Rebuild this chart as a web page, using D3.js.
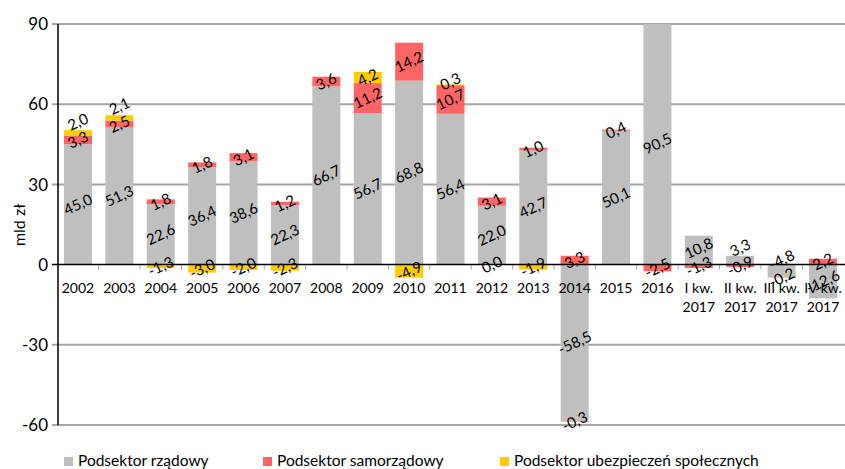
<!DOCTYPE html>
<html>
<head>
<meta charset="utf-8">
<script src="https://cdn.jsdelivr.net/npm/d3@7"></script>
<style>
  body { margin: 0; background: #fff; }
  text { font-family: Lato, "Open Sans", sans-serif; fill: #000; }
</style>
</head>
<body>
<div class="chart"></div>
<script>
var categories = ["2002", "2003", "2004", "2005", "2006", "2007", "2008", "2009", "2010", "2011",
  "2012", "2013", "2014", "2015", "2016", "I kw. 2017", "II kw. 2017", "III kw. 2017", "IV kw. 2017"];

// mld zł
var rzadowy = [45.0, 51.3, 22.6, 36.4, 38.6, 22.3, 66.7, 56.7, 68.8, 56.4, 22.0, 42.7, -58.5, 50.1, 90.5, 10.8, 3.3, -4.8, -12.6];
var samorzadowy = [3.3, 2.5, 1.8, 1.8, 3.1, 1.2, 3.6, 11.2, 14.2, 10.7, 3.1, 1.0, 3.3, 0.4, -2.5, -1.3, -0.9, null, 2.2];
var ubezpieczen = [2.0, 2.1, -1.3, -3.0, -2.0, -2.3, null, 4.2, -4.9, 0.3, 0.0, -1.9, -0.3, null, null, null, null, -0.2, null];

var seriesNames = ["Podsektor rządowy", "Podsektor samorządowy", "Podsektor ubezpieczeń społecznych"];
var yTicks = [-60, -30, 0, 30, 60, 90];

var colors = ["#bfbfbf", "#ff6565", "#ffcc00"];
var svgWidth = 845, svgHeight = 469;

var svg = d3.select(".chart").append("svg")
  .attr("width", svgWidth)
  .attr("height", svgHeight);

var x = d3.scaleBand()
  .domain(categories)
  .range([58, 843])
  .paddingInner(0.324)
  .paddingOuter(0.145);

var y = d3.scaleLinear()
  .domain([-60, 90])
  .range([425, 24]);

// build table for the stack
var table = categories.map(function(c, i) {
  return { cat: c, s0: rzadowy[i] || 0, s1: samorzadowy[i] || 0, s2: ubezpieczen[i] || 0 };
});
var raw = [rzadowy, samorzadowy, ubezpieczen];

var stack = d3.stack()
  .keys(["s0", "s1", "s2"])
  .offset(d3.stackOffsetDiverging);
var stacked = stack(table);

// gridlines
svg.append("g").selectAll("line")
  .data(yTicks.filter(function(t) { return t !== 0; }))
  .enter().append("line")
    .attr("x1", 52).attr("x2", 845)
    .attr("y1", function(d) { return y(d); })
    .attr("y2", function(d) { return y(d); })
    .attr("stroke", "#a6a6a6")
    .attr("stroke-width", 2);

svg.append("defs").append("clipPath").attr("id", "plot")
  .append("rect").attr("x", 58).attr("y", y(90)).attr("width", 790).attr("height", y(-60) - y(90));

var bars = svg.append("g").attr("clip-path", "url(#plot)");
stacked.forEach(function(layer, k) {
  bars.append("g").attr("fill", colors[k]).selectAll("rect")
    .data(layer.filter(function(d, i) { return raw[k][i] !== null; }))
    .enter().append("rect")
      .attr("x", function(d) { return x(d.data.cat); })
      .attr("width", x.bandwidth())
      .attr("y", function(d) { return y(Math.max(d[0], d[1])); })
      .attr("height", function(d) { return Math.abs(y(d[0]) - y(d[1])); });
});

// zero line + category ticks
var step = x.step();
svg.append("g").selectAll("line")
  .data(categories.slice(1))
  .enter().append("line")
    .attr("x1", function(d) { return x(d) - (step - x.bandwidth()) / 2; })
    .attr("x2", function(d) { return x(d) - (step - x.bandwidth()) / 2; })
    .attr("y1", y(0)).attr("y2", y(0) + 5)
    .attr("stroke", "#a6a6a6").attr("stroke-width", 1);

svg.append("line")
  .attr("x1", 52).attr("x2", 845)
  .attr("y1", y(0)).attr("y2", y(0))
  .attr("stroke", "#000").attr("stroke-width", 1.5);

svg.append("line")
  .attr("x1", 58).attr("x2", 58)
  .attr("y1", y(90)).attr("y2", y(-60))
  .attr("stroke", "#000").attr("stroke-width", 1.5);

// data labels, centred in segments, nudged upwards when they collide
var fmt = function(v) { return v.toFixed(1).replace(".", ","); };
var gap = 18;
var labels = [];
categories.forEach(function(c, i) {
  var items = [];
  stacked.forEach(function(layer, k) {
    var v = raw[k][i];
    if (v === null) return;
    var d = layer[i];
    items.push({ cat: c, v: v, cy: y((d[0] + d[1]) / 2) });
  });
  items.sort(function(a, b) { return b.cy - a.cy; });
  var lim = Infinity;
  items.forEach(function(p) { p.y = Math.min(p.cy, lim); lim = p.y - gap; });
  labels = labels.concat(items);
});

svg.append("g").selectAll("text")
  .data(labels)
  .enter().append("text")
    .attr("transform", function(d) {
      return "translate(" + (x(d.cat) + x.bandwidth() / 2) + "," + d.y + ") rotate(-25)";
    })
    .attr("text-anchor", "middle")
    .attr("dy", "0.35em")
    .style("font-size", "15px")
    .text(function(d) { return fmt(d.v); });

// y tick labels
svg.append("g").selectAll("text")
  .data(yTicks)
  .enter().append("text")
    .attr("x", 48)
    .attr("y", function(d) { return y(d); })
    .attr("dy", "0.36em")
    .attr("text-anchor", "end")
    .style("font-size", "17px")
    .text(function(d) { return d; });

// category labels
var catText = svg.append("g").selectAll("text")
  .data(categories)
  .enter().append("text")
    .attr("x", function(d) { return x(d) + x.bandwidth() / 2; })
    .attr("y", 293)
    .attr("text-anchor", "middle")
    .style("font-size", "14px");
catText.each(function(d) {
  var parts = d.split(" ");
  var t = d3.select(this);
  if (parts.length > 1) {
    t.append("tspan").attr("x", x(d) + x.bandwidth() / 2).text(parts[0] + " " + parts[1]);
    t.append("tspan").attr("x", x(d) + x.bandwidth() / 2).attr("dy", 19).text(parts[2]);
  } else {
    t.text(d);
  }
});

svg.append("text")
  .attr("transform", "translate(25,225) rotate(-90)")
  .attr("text-anchor", "middle")
  .style("font-size", "16px")
  .text("mld zł");

// legend
var legendX = [64, 263, 500];
var legend = svg.append("g").selectAll("g")
  .data(seriesNames)
  .enter().append("g")
    .attr("transform", function(d, i) { return "translate(" + legendX[i] + ",457)"; });
legend.append("rect")
  .attr("width", 9).attr("height", 9)
  .attr("fill", function(d, i) { return colors[i]; });
legend.append("text")
  .attr("x", 14).attr("y", 9)
  .style("font-size", "15.5px")
  .text(function(d) { return d; });
</script>
</body>
</html>
